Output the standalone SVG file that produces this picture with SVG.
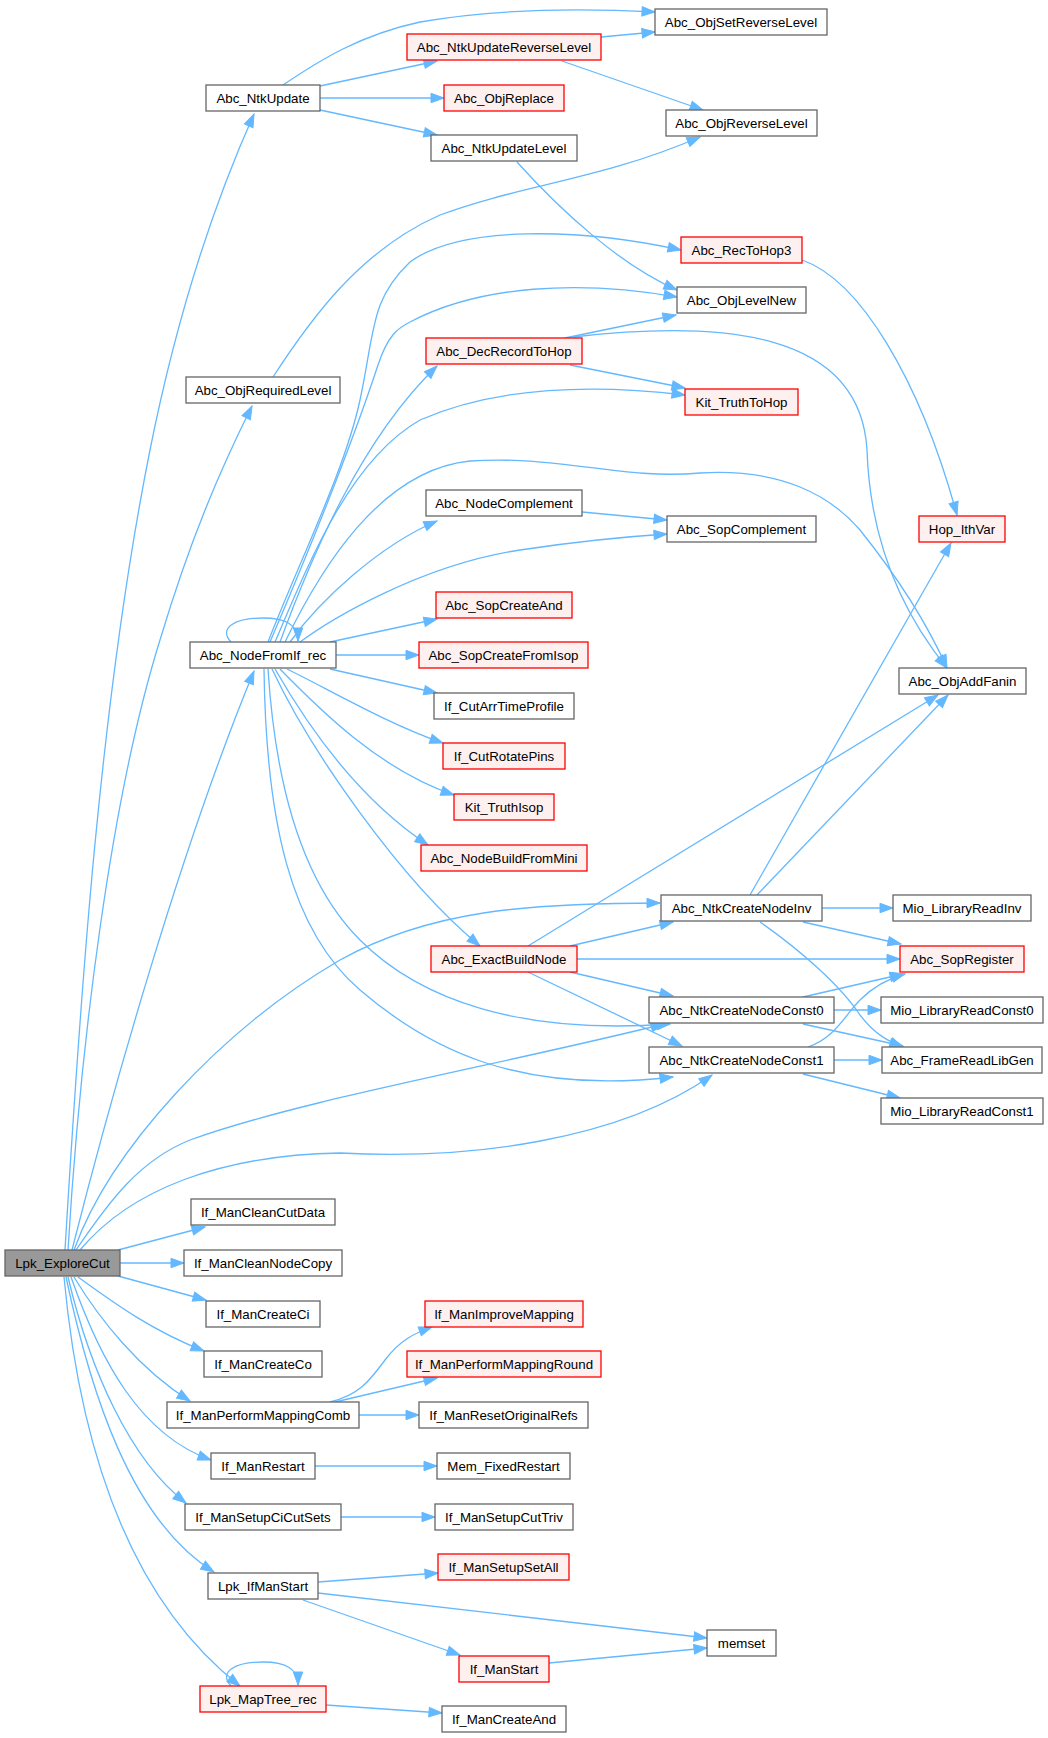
<svg xmlns="http://www.w3.org/2000/svg" width="1048" height="1738" viewBox="0 0 1048 1738">
<style>
.n rect{fill:#ffffff;stroke:#666666;stroke-width:1.3}
.r rect{fill:#fff0f0;stroke:#ff0000;stroke-width:1.3}
.root rect{fill:#999999;stroke:#666666;stroke-width:1.3}
text{font-family:"Liberation Sans",Arial,Helvetica,sans-serif;font-size:13.3px;fill:#000000;text-anchor:middle}
.e path{fill:none;stroke:#63b8ff;stroke-width:1.3;marker-end:url(#ah)}
</style>
<defs>
<marker id="ah" markerUnits="userSpaceOnUse" markerWidth="14" markerHeight="10" refX="13" refY="5" orient="auto" overflow="visible">
<path d="M0,0.3 L13,5 L0,9.7 Z" fill="#63b8ff" stroke="#63b8ff" stroke-width="1"/>
</marker>
</defs>
<rect width="1048" height="1738" fill="#ffffff"/>
<g id="edges" class="e">
<!-- Lpk_ExploreCut -->
<path d="M65,1250 C80,1000 100,700 150,450 C180,300 220,190 254,114"/>
<path d="M68,1250 C80,1050 110,800 160,640 C190,540 220,470 252,406"/>
<path d="M72,1250 C110,1100 180,850 254,671"/>
<path d="M74,1250 C110,1150 220,1030 340,960 C430,910 530,903 660,903"/>
<path d="M76,1250 C110,1200 140,1160 190,1140 C300,1100 500,1065 664,1024"/>
<path d="M80,1250 C130,1190 220,1155 340,1153 C470,1160 620,1140 712,1075"/>
<path d="M118,1250 L205,1227"/>
<path d="M120,1263 L184,1263"/>
<path d="M118,1276 L206,1300"/>
<path d="M78,1277 C110,1300 150,1330 204,1351"/>
<path d="M74,1277 C100,1320 140,1370 190,1401"/>
<path d="M71,1277 C100,1360 140,1435 211,1460"/>
<path d="M68,1277 C90,1370 130,1460 186,1503"/>
<path d="M66,1277 C90,1390 130,1520 214,1572"/>
<path d="M64,1277 C80,1450 130,1600 240,1686"/>
<!-- Abc_NtkUpdate -->
<path d="M283,85 C320,60 360,35 420,22 C500,8 580,8 655,12"/>
<path d="M320,86 L437,61"/>
<path d="M320,98 L444,98"/>
<path d="M320,110 L437,135"/>
<!-- Abc_NtkUpdateReverseLevel -->
<path d="M601,37 L655,32"/>
<path d="M562,61 L703,110"/>
<!-- Abc_NtkUpdateLevel -->
<path d="M517,162 C560,210 620,265 677,290"/>
<!-- Abc_ObjRequiredLevel -->
<path d="M273,377 C310,320 360,250 440,215 C520,185 600,180 700,137"/>
<!-- Abc_RecToHop3 -->
<path d="M802,260 C860,280 920,380 957,515"/>
<!-- Abc_DecRecordToHop -->
<path d="M565,338 L676,315"/>
<path d="M570,365 L685,388"/>
<path d="M573,337 C720,320 860,330 867,450 C870,540 900,610 947,668"/>
<!-- Abc_NodeFromIf_rec -->
<path d="M231,642 C218,628 235,618 263,618 C285,618 298,624 298,641"/>
<path d="M268,642 C300,560 345,470 360,400 C375,330 370,300 410,262 C460,225 580,228 681,250"/>
<path d="M270,642 C305,560 350,450 378,365 C388,335 398,328 410,322 C480,285 580,280 677,297"/>
<path d="M280,642 C310,560 360,440 437,366"/>
<path d="M275,642 C310,560 350,460 420,420 C500,385 600,385 685,395"/>
<path d="M285,642 C320,570 380,470 470,461 C560,455 620,480 700,473 C780,468 830,495 860,530 C900,580 930,630 947,668"/>
<path d="M290,642 C320,600 380,545 437,521"/>
<path d="M300,642 C330,620 420,565 520,550 C580,541 620,537 667,534"/>
<path d="M330,642 L437,619"/>
<path d="M336,655 L419,655"/>
<path d="M330,669 L437,693"/>
<path d="M287,669 C330,690 390,725 443,743"/>
<path d="M280,669 C320,710 380,770 454,795"/>
<path d="M275,669 C310,730 360,800 428,845"/>
<path d="M272,669 C310,750 400,880 480,946"/>
<path d="M268,669 C275,780 300,880 360,940 C420,1000 520,1035 670,1024"/>
<path d="M264,669 C266,820 290,930 360,990 C430,1050 520,1095 673,1077"/>
<!-- Abc_NodeComplement -->
<path d="M582,512 L667,520"/>
<!-- Abc_ExactBuildNode -->
<path d="M528,946 L938,695"/>
<path d="M570,946 L673,922"/>
<path d="M577,959 L900,959"/>
<path d="M570,972 L673,996"/>
<path d="M528,972 L682,1046"/>
<!-- Abc_NtkCreateNodeInv -->
<path d="M750,895 L951,543"/>
<path d="M757,895 L948,695"/>
<path d="M822,908 L893,908"/>
<path d="M803,922 L901,944"/>
<path d="M760,922 C800,950 840,985 860,1015 C875,1035 890,1042 903,1047"/>
<!-- Abc_NtkCreateNodeConst0 -->
<path d="M803,997 L903,974"/>
<path d="M834,1010 L881,1010"/>
<path d="M803,1024 L903,1046"/>
<!-- Abc_NtkCreateNodeConst1 -->
<path d="M808,1047 C835,1038 845,1015 860,1000 C875,985 890,978 905,974"/>
<path d="M834,1060 L882,1060"/>
<path d="M803,1074 L900,1098"/>
<!-- If_ManPerformMappingComb -->
<path d="M330,1402 C360,1395 370,1380 385,1360 C400,1340 415,1333 432,1327"/>
<path d="M335,1402 L437,1378"/>
<path d="M359,1415 L419,1415"/>
<!-- If_ManRestart / SetupCiCutSets -->
<path d="M315,1466 L437,1466"/>
<path d="M341,1517 L435,1517"/>
<!-- Lpk_IfManStart -->
<path d="M318,1582 L438,1573"/>
<path d="M318,1593 L707,1638"/>
<path d="M303,1600 L460,1655"/>
<!-- If_ManStart -->
<path d="M549,1663 L707,1648"/>
<!-- Lpk_MapTree_rec -->
<path d="M231,1686 C218,1672 235,1662 263,1662 C285,1662 298,1668 298,1685"/>
<path d="M326,1705 L442,1713"/>
</g>
<g id="Lpk_ExploreCut" class="root"><rect x="5" y="1250" width="115" height="26"/><text x="62.5" y="1268">Lpk_ExploreCut</text></g>
<g id="Abc_NtkUpdate" class="n"><rect x="206" y="85" width="114" height="26"/><text x="263" y="103">Abc_NtkUpdate</text></g>
<g id="Abc_ObjRequiredLevel" class="n"><rect x="186" y="377" width="154" height="26"/><text x="263" y="395">Abc_ObjRequiredLevel</text></g>
<g id="Abc_NodeFromIf_rec" class="n"><rect x="190" y="642" width="146" height="26"/><text x="263" y="660">Abc_NodeFromIf_rec</text></g>
<g id="If_ManCleanCutData" class="n"><rect x="191" y="1199" width="144" height="26"/><text x="263" y="1217">If_ManCleanCutData</text></g>
<g id="If_ManCleanNodeCopy" class="n"><rect x="184" y="1250" width="158" height="26"/><text x="263" y="1268">If_ManCleanNodeCopy</text></g>
<g id="If_ManCreateCi" class="n"><rect x="206" y="1301" width="114" height="26"/><text x="263" y="1319">If_ManCreateCi</text></g>
<g id="If_ManCreateCo" class="n"><rect x="204" y="1351" width="118" height="26"/><text x="263" y="1369">If_ManCreateCo</text></g>
<g id="If_ManPerformMappingComb" class="n"><rect x="167" y="1402" width="192" height="26"/><text x="263" y="1420">If_ManPerformMappingComb</text></g>
<g id="If_ManRestart" class="n"><rect x="211" y="1453" width="104" height="26"/><text x="263" y="1471">If_ManRestart</text></g>
<g id="If_ManSetupCiCutSets" class="n"><rect x="185" y="1504" width="156" height="26"/><text x="263" y="1522">If_ManSetupCiCutSets</text></g>
<g id="Lpk_IfManStart" class="n"><rect x="208" y="1573" width="110" height="26"/><text x="263" y="1591">Lpk_IfManStart</text></g>
<g id="Lpk_MapTree_rec" class="r"><rect x="200" y="1686" width="126" height="26"/><text x="263" y="1704">Lpk_MapTree_rec</text></g>
<g id="Abc_NtkUpdateReverseLevel" class="r"><rect x="407" y="34" width="194" height="26"/><text x="504" y="52">Abc_NtkUpdateReverseLevel</text></g>
<g id="Abc_ObjReplace" class="r"><rect x="444" y="85" width="120" height="26"/><text x="504" y="103">Abc_ObjReplace</text></g>
<g id="Abc_NtkUpdateLevel" class="n"><rect x="431" y="135" width="146" height="26"/><text x="504" y="153">Abc_NtkUpdateLevel</text></g>
<g id="Abc_DecRecordToHop" class="r"><rect x="426" y="338" width="156" height="26"/><text x="504" y="356">Abc_DecRecordToHop</text></g>
<g id="Abc_NodeComplement" class="n"><rect x="426" y="490" width="156" height="26"/><text x="504" y="508">Abc_NodeComplement</text></g>
<g id="Abc_SopCreateAnd" class="r"><rect x="436" y="592" width="136" height="26"/><text x="504" y="610">Abc_SopCreateAnd</text></g>
<g id="Abc_SopCreateFromIsop" class="r"><rect x="419" y="642" width="169" height="26"/><text x="503.5" y="660">Abc_SopCreateFromIsop</text></g>
<g id="If_CutArrTimeProfile" class="n"><rect x="434" y="693" width="140" height="26"/><text x="504" y="711">If_CutArrTimeProfile</text></g>
<g id="If_CutRotatePins" class="r"><rect x="443" y="743" width="122" height="26"/><text x="504" y="761">If_CutRotatePins</text></g>
<g id="Kit_TruthIsop" class="r"><rect x="454" y="794" width="100" height="26"/><text x="504" y="812">Kit_TruthIsop</text></g>
<g id="Abc_NodeBuildFromMini" class="r"><rect x="421" y="845" width="166" height="26"/><text x="504" y="863">Abc_NodeBuildFromMini</text></g>
<g id="Abc_ExactBuildNode" class="r"><rect x="431" y="946" width="146" height="26"/><text x="504" y="964">Abc_ExactBuildNode</text></g>
<g id="If_ManImproveMapping" class="r"><rect x="425" y="1301" width="158" height="26"/><text x="504" y="1319">If_ManImproveMapping</text></g>
<g id="If_ManPerformMappingRound" class="r"><rect x="407" y="1351" width="194" height="26"/><text x="504" y="1369">If_ManPerformMappingRound</text></g>
<g id="If_ManResetOriginalRefs" class="n"><rect x="419" y="1402" width="169" height="26"/><text x="503.5" y="1420">If_ManResetOriginalRefs</text></g>
<g id="Mem_FixedRestart" class="n"><rect x="437" y="1453" width="133" height="26"/><text x="503.5" y="1471">Mem_FixedRestart</text></g>
<g id="If_ManSetupCutTriv" class="n"><rect x="435" y="1504" width="138" height="26"/><text x="504" y="1522">If_ManSetupCutTriv</text></g>
<g id="If_ManSetupSetAll" class="r"><rect x="438" y="1554" width="131" height="26"/><text x="503.5" y="1572">If_ManSetupSetAll</text></g>
<g id="If_ManStart" class="r"><rect x="459" y="1656" width="90" height="26"/><text x="504" y="1674">If_ManStart</text></g>
<g id="If_ManCreateAnd" class="n"><rect x="442" y="1706" width="124" height="26"/><text x="504" y="1724">If_ManCreateAnd</text></g>
<g id="Abc_ObjSetReverseLevel" class="n"><rect x="655" y="9" width="172" height="26"/><text x="741" y="27">Abc_ObjSetReverseLevel</text></g>
<g id="Abc_ObjReverseLevel" class="n"><rect x="666" y="110" width="151" height="26"/><text x="741.5" y="128">Abc_ObjReverseLevel</text></g>
<g id="Abc_RecToHop3" class="r"><rect x="681" y="237" width="121" height="26"/><text x="741.5" y="255">Abc_RecToHop3</text></g>
<g id="Abc_ObjLevelNew" class="n"><rect x="677" y="287" width="129" height="26"/><text x="741.5" y="305">Abc_ObjLevelNew</text></g>
<g id="Kit_TruthToHop" class="r"><rect x="685" y="389" width="113" height="26"/><text x="741.5" y="407">Kit_TruthToHop</text></g>
<g id="Abc_SopComplement" class="n"><rect x="667" y="516" width="149" height="26"/><text x="741.5" y="534">Abc_SopComplement</text></g>
<g id="Abc_NtkCreateNodeInv" class="n"><rect x="661" y="895" width="161" height="26"/><text x="741.5" y="913">Abc_NtkCreateNodeInv</text></g>
<g id="Abc_NtkCreateNodeConst0" class="n"><rect x="649" y="997" width="185" height="26"/><text x="741.5" y="1015">Abc_NtkCreateNodeConst0</text></g>
<g id="Abc_NtkCreateNodeConst1" class="n"><rect x="649" y="1047" width="185" height="26"/><text x="741.5" y="1065">Abc_NtkCreateNodeConst1</text></g>
<g id="memset" class="n"><rect x="707" y="1630" width="69" height="26"/><text x="741.5" y="1648">memset</text></g>
<g id="Hop_IthVar" class="r"><rect x="919" y="516" width="86" height="26"/><text x="962" y="534">Hop_IthVar</text></g>
<g id="Abc_ObjAddFanin" class="n"><rect x="899" y="668" width="127" height="26"/><text x="962.5" y="686">Abc_ObjAddFanin</text></g>
<g id="Mio_LibraryReadInv" class="n"><rect x="893" y="895" width="138" height="26"/><text x="962" y="913">Mio_LibraryReadInv</text></g>
<g id="Abc_SopRegister" class="r"><rect x="900" y="946" width="124" height="26"/><text x="962" y="964">Abc_SopRegister</text></g>
<g id="Mio_LibraryReadConst0" class="n"><rect x="881" y="997" width="162" height="26"/><text x="962" y="1015">Mio_LibraryReadConst0</text></g>
<g id="Abc_FrameReadLibGen" class="n"><rect x="882" y="1047" width="160" height="26"/><text x="962" y="1065">Abc_FrameReadLibGen</text></g>
<g id="Mio_LibraryReadConst1" class="n"><rect x="881" y="1098" width="162" height="26"/><text x="962" y="1116">Mio_LibraryReadConst1</text></g>
</svg>
